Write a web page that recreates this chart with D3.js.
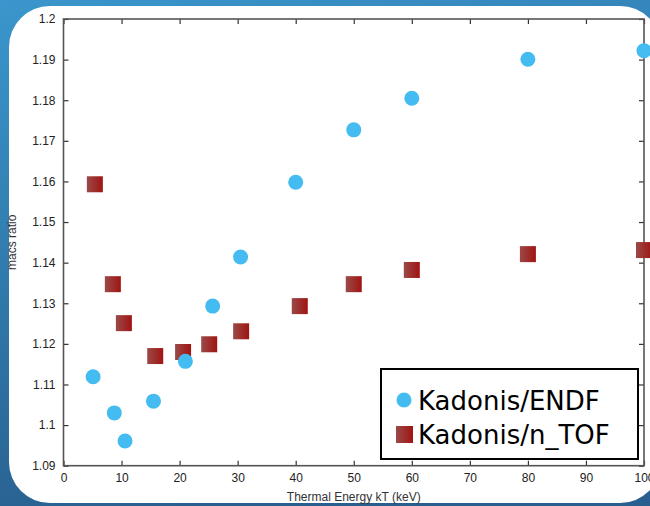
<!DOCTYPE html>
<html><head><meta charset="utf-8">
<script src="https://cdn.jsdelivr.net/npm/d3@7"></script>
<style>html,body{margin:0;padding:0;background:#fff;}svg{display:block;}</style>
</head><body>
<script>
const endfX = [5.1, 8.75, 10.6, 15.5, 21, 25.7, 30.5, 40, 50, 60, 80, 100];
const endfY = [1.1119, 1.1030, 1.0961, 1.1059, 1.1157, 1.1293, 1.1414, 1.1598, 1.1727, 1.1805, 1.1901, 1.1922];
const ntofX = [5.4, 8.5, 10.4, 15.8, 20.6, 25.1, 30.6, 40.7, 50, 60, 80, 100];
const ntofY = [1.1593, 1.1347, 1.1251, 1.1170, 1.1180, 1.1199, 1.1231, 1.1293, 1.1347, 1.1382, 1.1421, 1.1431];
const xTicks = [0, 10, 20, 30, 40, 50, 60, 70, 80, 90, 100];
const yTicks = [1.09, 1.1, 1.11, 1.12, 1.13, 1.14, 1.15, 1.16, 1.17, 1.18, 1.19, 1.2];
const seriesNames = ["Kadonis/ENDF", "Kadonis/n_TOF"];
const xTitle = "Thermal Energy kT (keV)";
const yTitle = "macs ratio";

const W = 650, H = 506;
const svg = d3.select("body").append("svg").attr("width", W).attr("height", H);
const defs = svg.append("defs");
const bg = defs.append("linearGradient").attr("id", "bg").attr("x1", 0).attr("y1", 0).attr("x2", 0.3).attr("y2", 1);
bg.append("stop").attr("offset", 0).attr("stop-color", "#3a96cc");
bg.append("stop").attr("offset", 1).attr("stop-color", "#285f8e");
const sq = defs.append("linearGradient").attr("id", "sq").attr("x1", 0).attr("y1", 0).attr("x2", 1).attr("y2", 0);
sq.append("stop").attr("offset", 0).attr("stop-color", "#9a4a48");
sq.append("stop").attr("offset", 1).attr("stop-color", "#a01412");

svg.append("rect").attr("width", W).attr("height", H).attr("fill", "url(#bg)");
svg.append("rect").attr("x", 9).attr("y", 6).attr("width", 652).attr("height", 497).attr("rx", 41).attr("ry", 41).attr("fill", "#fff");

const L = 63.5, R = 644, T = 19, B = 465.7;
const x = d3.scaleLinear().domain([0, 100]).range([L, R]);
const y = d3.scaleLinear().domain([1.09, 1.2]).range([B, T]);

const font = "'Liberation Sans', Arial, sans-serif";
const axisStyle = g => {
  g.select(".domain").remove();
  g.selectAll(".tick line").attr("stroke", "#333").attr("stroke-width", 1.2);
  g.selectAll(".tick text").attr("font-family", font).attr("font-size", 12).attr("fill", "#222");
};
svg.append("g").attr("transform", `translate(0,${B})`)
  .call(d3.axisBottom(x).tickValues(xTicks).tickFormat(d3.format("d")).tickSizeInner(-5).tickSizeOuter(0).tickPadding(8))
  .call(axisStyle);
svg.append("g").attr("transform", `translate(0,${T})`)
  .call(d3.axisTop(x).tickValues(xTicks).tickFormat("").tickSizeInner(-5).tickSizeOuter(0))
  .call(axisStyle);
svg.append("g").attr("transform", `translate(${L},0)`)
  .call(d3.axisLeft(y).tickValues(yTicks).tickFormat(d => String(+d.toFixed(2))).tickSizeInner(-5).tickSizeOuter(0).tickPadding(8))
  .call(axisStyle);
svg.append("g").attr("transform", `translate(${R},0)`)
  .call(d3.axisRight(y).tickValues(yTicks).tickFormat("").tickSizeInner(-5).tickSizeOuter(0))
  .call(axisStyle);
svg.append("rect").attr("x", L).attr("y", T).attr("width", R - L).attr("height", B - T)
  .attr("fill", "none").attr("stroke", "#555").attr("stroke-width", 1.6);

svg.append("text").attr("x", (L + R) / 2).attr("y", 501).attr("text-anchor", "middle")
  .attr("font-family", font).attr("font-size", 12).attr("fill", "#333").text(xTitle);
svg.append("text").attr("transform", `translate(16,${(T + B) / 2}) rotate(-90)`).attr("text-anchor", "middle")
  .attr("font-family", font).attr("font-size", 12).attr("fill", "#333").text(yTitle);

const ntof = ntofX.map((v, i) => ({x: v, y: ntofY[i]}));
const endf = endfX.map((v, i) => ({x: v, y: endfY[i]}));
const S = 16;
svg.append("g").selectAll("rect").data(ntof).join("rect")
  .attr("x", d => x(d.x) - S / 2).attr("y", d => y(d.y) - S / 2)
  .attr("width", S).attr("height", S).attr("fill", "url(#sq)");
svg.append("g").selectAll("circle").data(endf).join("circle")
  .attr("cx", d => x(d.x)).attr("cy", d => y(d.y)).attr("r", 7.5).attr("fill", "#44bcf1");

// legend
const lg = svg.append("g");
lg.append("rect").attr("x", 381).attr("y", 369).attr("width", 257).attr("height", 90)
  .attr("fill", "#fff").attr("stroke", "#000").attr("stroke-width", 2);
lg.append("circle").attr("cx", 404).attr("cy", 400).attr("r", 7.5).attr("fill", "#44bcf1");
lg.append("rect").attr("x", 396).attr("y", 426).attr("width", 17).attr("height", 17).attr("fill", "url(#sq)");
lg.selectAll("text").data(seriesNames).join("text")
  .attr("x", 418).attr("y", (d, i) => 410 + i * 34)
  .attr("font-family", "'DejaVu Sans', sans-serif").attr("font-size", 26).attr("fill", "#000").text(d => d);
</script>
</body></html>
